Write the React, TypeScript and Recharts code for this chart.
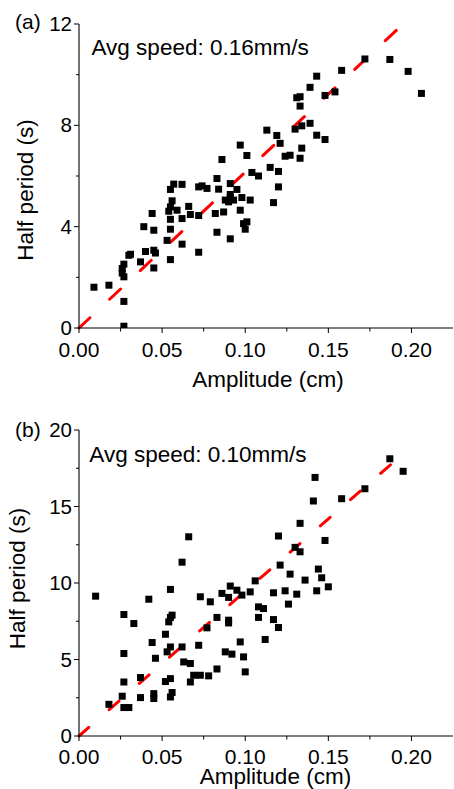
import React from 'react';
import { ScatterChart, Scatter, XAxis, YAxis, ReferenceLine } from 'recharts';

// (a) avg speed 0.16 mm/s  -- amplitude (cm) vs half period (s)
const ampA = [
  0.009, 0.018, 0.027, 0.027, 0.027, 0.026, 0.026, 0.027, 0.030, 0.031,
  0.037, 0.039, 0.040, 0.044, 0.045, 0.045, 0.046, 0.045, 0.053, 0.055,
  0.055, 0.055, 0.054, 0.055, 0.056, 0.055, 0.057, 0.059, 0.062, 0.062,
  0.062, 0.066, 0.067, 0.072, 0.072, 0.074, 0.072, 0.077, 0.082, 0.083,
  0.083, 0.084, 0.086, 0.087, 0.088, 0.090, 0.091, 0.093, 0.091, 0.091,
  0.095, 0.091, 0.097, 0.097, 0.098, 0.099, 0.100, 0.101, 0.101, 0.103,
  0.104, 0.108, 0.113, 0.115, 0.117, 0.119, 0.120, 0.120, 0.121, 0.124,
  0.127, 0.130, 0.131, 0.133, 0.133, 0.134, 0.134, 0.133, 0.139, 0.139,
  0.143, 0.143, 0.148, 0.148, 0.154, 0.158, 0.172, 0.187, 0.198, 0.206,
];
const periodA = [
  1.61, 1.69, 1.05, 0.07, 2.52, 2.35, 2.17, 2.02, 2.87, 2.91,
  2.61, 4.0, 3.02, 4.52, 3.86, 3.07, 2.96, 2.37, 3.46, 2.7,
  3.9, 4.29, 4.61, 4.78, 5.02, 5.47, 5.68, 4.65, 5.67, 4.32,
  3.31, 4.8, 4.48, 2.99, 5.57, 5.61, 4.44, 5.51, 4.52, 5.9,
  3.78, 5.48, 6.65, 4.58, 5.05, 4.98, 5.15, 5.05, 5.27, 5.7,
  5.47, 3.52, 7.22, 4.65, 5.15, 4.12, 3.9, 4.19, 6.81, 5.05,
  6.14, 6.0, 7.81, 6.34, 4.95, 7.6, 6.18, 5.57, 7.29, 6.78,
  6.82, 7.85, 9.09, 9.13, 8.76, 7.98, 7.1, 6.7, 9.5, 8.08,
  7.61, 9.94, 7.44, 9.18, 9.32, 10.17, 10.62, 10.6, 10.13, 9.26,
];

// (b) avg speed 0.10 mm/s
const ampB = [
  0.010, 0.018, 0.026, 0.027, 0.030, 0.027, 0.027, 0.027, 0.033, 0.037,
  0.037, 0.042, 0.044, 0.046, 0.045, 0.045, 0.052, 0.052, 0.053, 0.055,
  0.055, 0.056, 0.055, 0.054, 0.055, 0.056, 0.055, 0.062, 0.066, 0.062,
  0.063, 0.067, 0.067, 0.069, 0.073, 0.072, 0.073, 0.078, 0.077, 0.079,
  0.083, 0.083, 0.088, 0.092, 0.086, 0.090, 0.091, 0.095, 0.090, 0.090,
  0.097, 0.099, 0.100, 0.098, 0.103, 0.106, 0.108, 0.111, 0.108, 0.112,
  0.117, 0.117, 0.120, 0.120, 0.121, 0.124, 0.127, 0.126, 0.131, 0.130,
  0.133, 0.133, 0.136, 0.141, 0.142, 0.143, 0.144, 0.146, 0.148, 0.150,
  0.158, 0.172, 0.187, 0.195,
];
const periodB = [
  9.14, 2.07, 2.6, 1.86, 1.86, 3.53, 5.39, 7.94, 7.35, 2.51,
  3.82, 8.94, 6.11, 5.08, 2.77, 2.45, 6.65, 3.56, 5.5, 5.82,
  3.75, 2.84, 2.55, 7.46, 7.75, 7.9, 9.58, 11.36, 13.02, 5.82,
  4.84, 4.74, 3.53, 3.97, 3.97, 5.93, 9.1, 3.93, 7.07, 8.77,
  4.38, 7.75, 5.5, 5.35, 9.32, 9.06, 9.8, 9.53, 7.57, 7.39,
  6.15, 5.17, 4.19, 9.21, 9.42, 10.14, 8.44, 8.33, 7.75, 6.31,
  9.36, 7.61, 7.09, 13.07, 11.17, 9.49, 10.58, 8.62, 9.27, 12.33,
  13.9, 12.04, 10.19, 15.36, 16.9, 9.49, 10.91, 10.34, 12.78, 9.75,
  15.51, 16.16, 18.12, 17.3,
];

const ampTicks = [0, 0.025, 0.05, 0.075, 0.1, 0.125, 0.15, 0.175, 0.2];
const periodTicksA = [0, 2, 4, 6, 8, 10, 12];
const periodTicksB = [0, 2.5, 5, 7.5, 10, 12.5, 15, 17.5, 20];

// end points of the dashed fit lines (start at origin)
const fitA = { amp: 0.195, period: 12 };
const fitB = { amp: 0.195, period: 18.45 };

const FONT = "'Liberation Sans', Arial, sans-serif";

const isMajor = (v: number, step: number) => Math.abs(v / step - Math.round(v / step)) < 1e-6;

const Square = (props: any) => {
  const { cx, cy } = props;
  if (cx == null || cy == null) return null;
  return <rect x={cx - 3.5} y={cy - 3.5} width={7} height={7} fill="#000" />;
};

const BottomTick = ({ x, y, payload, dy }: any) => {
  const major = isMajor(payload.value, 0.05);
  return (
    <g>
      <line x1={x} x2={x} y1={y} y2={y + (major ? 5 : 3.5)} stroke="#000" />
      {major && (
        <text x={x} y={y + dy} textAnchor="middle" fontSize={21} fontFamily={FONT} fill="#000">
          {payload.value.toFixed(2)}
        </text>
      )}
    </g>
  );
};

const TopTick = ({ x, y, payload }: any) => {
  const major = isMajor(payload.value, 0.05);
  return <line x1={x} x2={x} y1={y} y2={y + (major ? 5 : 3.5)} stroke="#000" />;
};

const LeftTick = ({ x, y, payload, step }: any) => {
  const major = isMajor(payload.value, step);
  return (
    <g>
      <line x1={x} x2={x - (major ? 5 : 3)} y1={y} y2={y} stroke="#000" />
      {major && (
        <text x={x - 7} y={y + 7} textAnchor="end" fontSize={20.5} fontFamily={FONT} fill="#000">
          {payload.value}
        </text>
      )}
    </g>
  );
};

const RightTick = ({ x, y, payload, step }: any) => {
  const major = isMajor(payload.value, step);
  return <line x1={x} x2={x - (major ? 5 : 3)} y1={y} y2={y} stroke="#000" />;
};

function Panel({ amp, period, yMax, yTicks, yStep, fit, dash, height, plotH, xDy }: any) {
  const data = amp.map((a: number, i: number) => ({ x: a, y: period[i] }));
  const axisLine = { stroke: '#000', strokeWidth: 1.1 };
  return (
    <ScatterChart width={454} height={height} margin={{ top: 24, right: 1, bottom: 0, left: 0 }}>
      <XAxis type="number" dataKey="x" domain={[0, 0.225]} ticks={ampTicks} interval={0}
        allowDataOverflow tickSize={0} tickMargin={0} tickLine={false} axisLine={axisLine}
        height={height - 24 - plotH} tick={(p: any) => <BottomTick {...p} dy={xDy} />} />
      <XAxis xAxisId="top" orientation="top" type="number" domain={[0, 0.225]} ticks={ampTicks}
        interval={0} allowDataOverflow tickSize={0} tickMargin={0} tickLine={false} axisLine={axisLine}
        height={0} tick={(p: any) => <TopTick {...p} />} />
      <YAxis type="number" dataKey="y" domain={[0, yMax]} ticks={yTicks} interval={0}
        allowDataOverflow tickSize={0} tickMargin={0} tickLine={false} axisLine={axisLine}
        width={79} tick={(p: any) => <LeftTick {...p} step={yStep} />} />
      <YAxis yAxisId="right" orientation="right" type="number" domain={[0, yMax]} ticks={yTicks}
        interval={0} allowDataOverflow tickSize={0} tickMargin={0} tickLine={false} axisLine={axisLine}
        width={0} tick={(p: any) => <RightTick {...p} step={yStep} />} />
      <Scatter data={data} shape={<Square />} isAnimationActive={false} />
      <ReferenceLine segment={[{ x: 0, y: 0 }, { x: fit.amp, y: fit.period }]} stroke="#ff0000"
        strokeWidth={3} strokeDasharray={dash} strokeLinecap="round" />
    </ScatterChart>
  );
}

export default function App() {
  const txt = { fontFamily: FONT, fill: '#000' };
  return (
    <div style={{ position: 'absolute', left: 0, top: 0, width: 454, height: 789, background: '#fff' }}>
      <div style={{ position: 'absolute', left: 0, top: 0 }}>
        <Panel amp={ampA} period={periodA} yMax={12} yTicks={periodTicksA} yStep={4} fit={fitA}
          dash="15 27" height={365} plotH={304} xDy={28.5} />
      </div>
      <div style={{ position: 'absolute', left: 0, top: 406 }}>
        <Panel amp={ampB} period={periodB} yMax={20} yTicks={periodTicksB} yStep={5} fit={fitB}
          dash="13 27" height={364} plotH={306} xDy={28} />
      </div>
      <svg width={454} height={789} style={{ position: 'absolute', left: 0, top: 0, pointerEvents: 'none' }}>
        <text x={15} y={29} fontSize={21} {...txt}>(a)</text>
        <text x={91.5} y={55} fontSize={22.5} {...txt}>Avg speed: 0.16mm/s</text>
        <text x={33} y={190} fontSize={22.5} textAnchor="middle" transform="rotate(-90 33 190)" {...txt}>Half period (s)</text>
        <text x={268} y={387} fontSize={22.5} textAnchor="middle" {...txt}>Amplitude (cm)</text>

        <text x={15} y={437} fontSize={21} {...txt}>(b)</text>
        <text x={89.3} y={461.5} fontSize={22.5} {...txt}>Avg speed: 0.10mm/s</text>
        <text x={25} y={578.5} fontSize={22.5} textAnchor="middle" transform="rotate(-90 25 578.5)" {...txt}>Half period (s)</text>
        <text x={275.5} y={784} fontSize={22.5} textAnchor="middle" {...txt}>Amplitude (cm)</text>
      </svg>
    </div>
  );
}
